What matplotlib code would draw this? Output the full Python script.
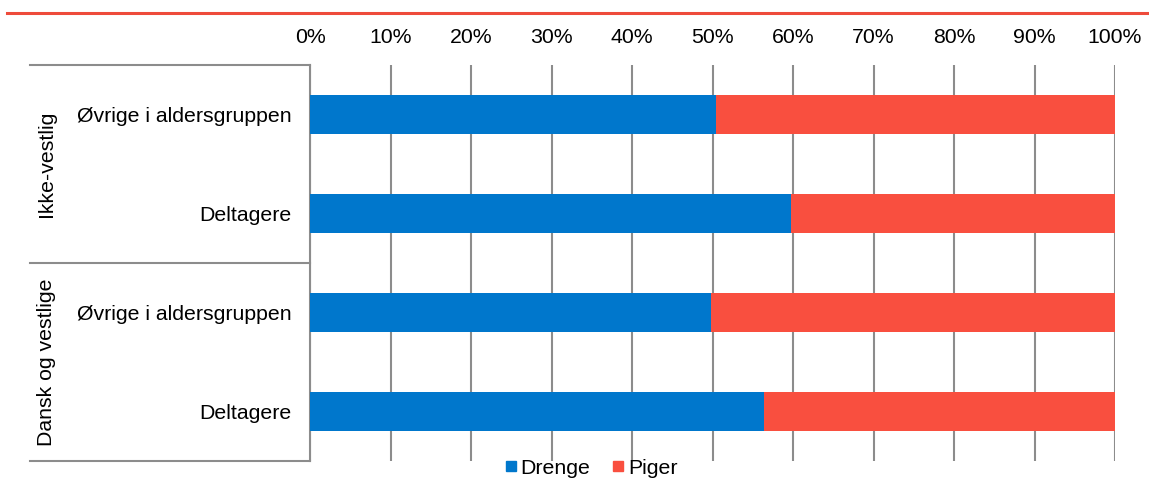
import matplotlib
matplotlib.use("Agg")
import matplotlib.pyplot as plt
from matplotlib.lines import Line2D
import numpy as np

plt.rcParams['font.family'] = ['Liberation Sans', 'DejaVu Sans']

categories = ["Øvrige i aldersgruppen", "Deltagere", "Øvrige i aldersgruppen", "Deltagere"]
groups = ["Ikke-vestlig", "Dansk og vestlige"]
drenge = [50.4, 59.8, 49.8, 56.4]
piger = [100 - v for v in drenge]
series_names = ["Drenge", "Piger"]
xticks = list(range(0, 101, 10))
xticklabels = [f"{t}%" for t in xticks]

BLUE = "#0077CC"
RED = "#F94F3F"
GRID = "#8C8C8C"
FS = 15.3

W, H = 1149, 480
fig = plt.figure(figsize=(W / 100, H / 100), dpi=100)
ax = fig.add_axes([310 / W, (H - 461) / H, 805 / W, 396 / H])

y = np.arange(len(categories))
ax.barh(y, drenge, height=0.39, color=BLUE, zorder=3)
ax.barh(y, piger, left=drenge, height=0.39, color=RED, zorder=3)

ax.set_xlim(0, 100)
ax.set_ylim(3.5, -0.5)
ax.set_xticks(xticks)
ax.set_xticklabels(xticklabels, fontsize=FS)
ax.xaxis.tick_top()
ax.tick_params(axis='x', length=0, pad=13)
ax.set_yticks(y)
ax.set_yticklabels(categories, fontsize=FS)
ax.tick_params(axis='y', length=0, pad=13.5)
ax.grid(axis='x', color=GRID, linewidth=1.5, zorder=1)
for s in ["top", "right", "bottom"]:
    ax.spines[s].set_visible(False)
ax.spines["left"].set_color(GRID)
ax.spines["left"].set_linewidth(1.5)

# left group structure lines
for yy in [65, 263, 461]:
    fig.add_artist(Line2D([30 / W, 310 / W], [1 - yy / H, 1 - yy / H], color=GRID, linewidth=1.5))

fig.text(46 / W, 1 - 164 / H, groups[0], rotation=90, ha='center', va='center', fontsize=FS)
fig.text(46 / W, 1 - 362 / H, groups[1], rotation=90, ha='center', va='center', fontsize=FS)

# top red line
fig.add_artist(Line2D([7 / W, 1.0], [1 - 13 / H, 1 - 13 / H], color="#EE4B3B", linewidth=2.2))

handles = [Line2D([], [], marker='s', linestyle='', color=BLUE, markersize=7.5),
           Line2D([], [], marker='s', linestyle='', color=RED, markersize=7.5)]
fig.legend(handles, series_names, loc='center', bbox_to_anchor=(591 / W, 1 - 468 / H),
           ncol=2, frameon=False, fontsize=FS, handlelength=0.6, handletextpad=0.15,
           columnspacing=1.0, borderpad=0)

fig.savefig("out.png", dpi=100)
